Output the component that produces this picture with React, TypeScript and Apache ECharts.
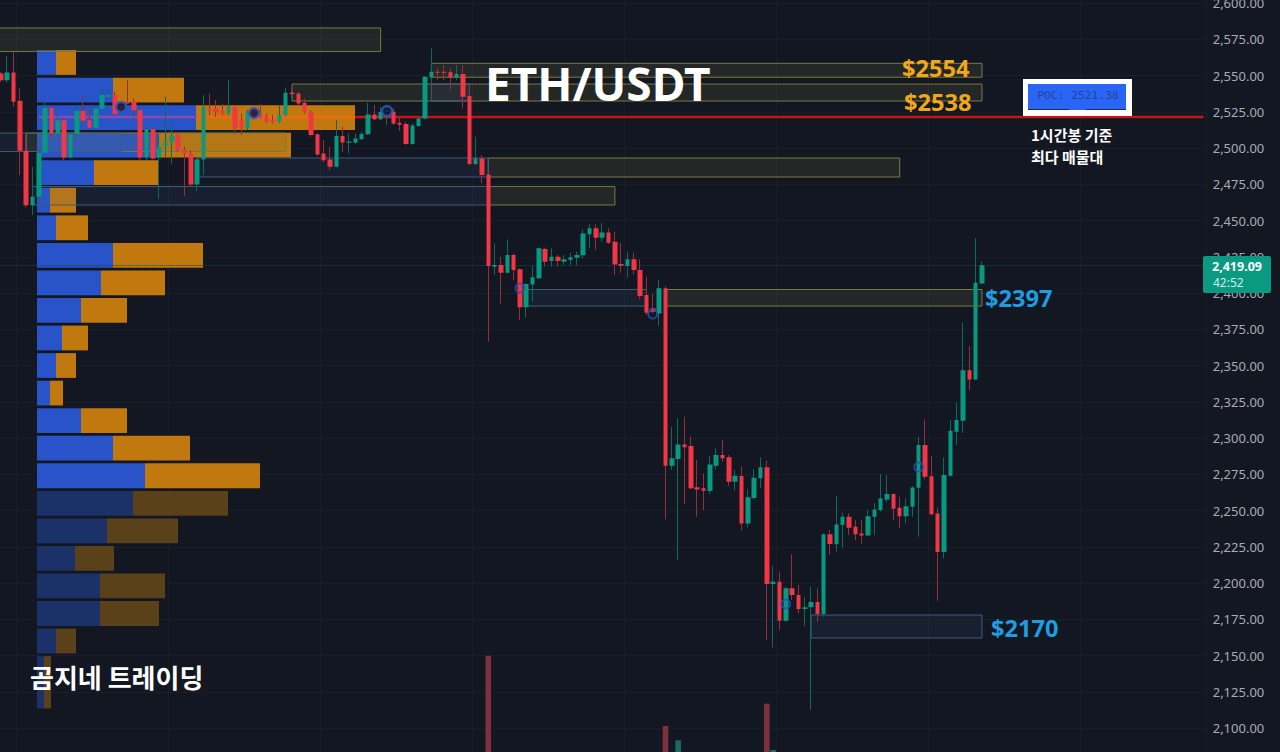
import { useEffect, useRef } from 'react';
import * as echarts from 'echarts';

// [open, close, low, high], one hourly candle per row
const candles = [
  [2551.4, 2546.8, 2545.7, 2552.6], [2546.8, 2552.1, 2545, 2563.4], [2552.1, 2531.9, 2528.4, 2566.4], [2532.6, 2498.1, 2481.3, 2541],
  [2498.1, 2460.6, 2459, 2510], [2460.6, 2466.4, 2453.7, 2487], [2466.4, 2496.7, 2464, 2498.5], [2496.7, 2527.7, 2496.2, 2533],
  [2527.7, 2510, 2507.7, 2529.6], [2510, 2519.2, 2508.9, 2522.7], [2519.2, 2493.5, 2491.6, 2520.4], [2493.5, 2509.6, 2492.8, 2511.2],
  [2509.4, 2525.7, 2507.7, 2528.4], [2525.7, 2518.8, 2516.9, 2535.8], [2519.2, 2514, 2513.5, 2528.4], [2514, 2527.3, 2512.3, 2528.4],
  [2527.1, 2536.5, 2526.6, 2541], [2535.3, 2536.5, 2534.2, 2539.9], [2536.5, 2523.4, 2522.7, 2538.8], [2529.6, 2526.1, 2525, 2531.9],
  [2531.9, 2530.7, 2530.2, 2546.8], [2532.3, 2526.1, 2521.5, 2534.2], [2526.1, 2493.5, 2491.6, 2528], [2493.5, 2513, 2491.6, 2514.6],
  [2513, 2492.8, 2492.1, 2514.6], [2493.5, 2500.8, 2465.2, 2510], [2501.3, 2504.3, 2493.9, 2535.3], [2504.3, 2508.4, 2489.3, 2518.1],
  [2508.9, 2499.2, 2497.4, 2510], [2499.2, 2495.8, 2466.8, 2500.8], [2495.8, 2474.9, 2473.3, 2498.5], [2474.9, 2492.1, 2470.5, 2493.9],
  [2492.1, 2527.7, 2481.3, 2536.5], [2527.3, 2526.1, 2522.7, 2537.6], [2527.3, 2524.5, 2521.5, 2533], [2526.1, 2523.8, 2522.7, 2530.7],
  [2523.8, 2528, 2522.7, 2546.8], [2528, 2513.5, 2510, 2528.4], [2519.2, 2514.2, 2508.9, 2523.8], [2513.5, 2525, 2512.3, 2526.1],
  [2525, 2521.5, 2520.4, 2527.3], [2522.7, 2521.1, 2520.4, 2530.7], [2521.5, 2518.1, 2517.4, 2523.8], [2519.2, 2518.1, 2516.9, 2522.7],
  [2518.1, 2522.7, 2517.4, 2529.6], [2522.7, 2538.1, 2522, 2541.8], [2538.1, 2537.2, 2535.3, 2539.9], [2537.6, 2530.7, 2529.6, 2538.8],
  [2531.2, 2525, 2523.8, 2534.2], [2524.8, 2508.9, 2507.7, 2526.1], [2509.4, 2495.6, 2494.4, 2510], [2496.2, 2491.6, 2490.5, 2505.4],
  [2492.1, 2487, 2484.7, 2500.8], [2487, 2508.2, 2486.6, 2519.2], [2508.2, 2503.8, 2497.4, 2514.6], [2503.6, 2504.5, 2496.2, 2510],
  [2503.6, 2506.6, 2503.1, 2510], [2506.1, 2509.6, 2505.4, 2511.2], [2509.4, 2523.1, 2508.9, 2531.2], [2523.1, 2519.9, 2519.2, 2529.6],
  [2519.9, 2524.8, 2519.2, 2528.4], [2524.8, 2526.1, 2515.8, 2528.4], [2525, 2516.9, 2515.8, 2527.3], [2517.4, 2516, 2511.9, 2521.1],
  [2516.5, 2502.7, 2502.2, 2518.1], [2502.7, 2515.6, 2502.2, 2516.9], [2515.1, 2520.4, 2514.6, 2521.5], [2520.4, 2549.1, 2519.7, 2549.6],
  [2548.7, 2552.6, 2544.5, 2568.7], [2552.6, 2551.9, 2546.8, 2554.9], [2552.6, 2551.9, 2546.8, 2557.2], [2552.3, 2548.7, 2540.4, 2554.9],
  [2548.7, 2551, 2546.8, 2557.2], [2551, 2535.3, 2527.3, 2557.2], [2535.8, 2488.9, 2488.2, 2543.4], [2488.9, 2492.8, 2488.2, 2507.7],
  [2492.8, 2481.3, 2475.6, 2495.1], [2481.8, 2418.6, 2366.4, 2483], [2418.1, 2419.3, 2412.4, 2434.2], [2419.3, 2414, 2392.8, 2424.6],
  [2414, 2426.2, 2413.5, 2437], [2426.2, 2415.8, 2408.9, 2427.3], [2416.3, 2390.1, 2381.3, 2417], [2390.1, 2406.2, 2383.2, 2406.6],
  [2405.9, 2410.8, 2394, 2419.3], [2410.1, 2430.8, 2409.6, 2431.2], [2430.3, 2421.6, 2418.1, 2431.2], [2422, 2425, 2418.1, 2430.8],
  [2425, 2422, 2418.1, 2426.2], [2421.6, 2423.2, 2419.3, 2426.2], [2422.7, 2424.6, 2419.3, 2427.8], [2424.3, 2426.2, 2419.3, 2428.5],
  [2426, 2441.1, 2423.9, 2443.9], [2440.6, 2444.6, 2430.8, 2447.5], [2444.6, 2438.1, 2429.6, 2447.5], [2438.1, 2441.8, 2435.4, 2448],
  [2441.8, 2434.7, 2433.8, 2444.6], [2435.4, 2419.7, 2412.4, 2442.3], [2420, 2418.8, 2414, 2434.7], [2418.6, 2423.2, 2410.8, 2428.5],
  [2423.2, 2415.8, 2413, 2427.8], [2415.8, 2397.9, 2395.6, 2423.2], [2398.6, 2386.4, 2384.8, 2411.2], [2389.4, 2387.1, 2385.9, 2399.7],
  [2385.9, 2403.2, 2377.2, 2408.9], [2403.2, 2280.9, 2243.9, 2404.8], [2280.9, 2286, 2277.9, 2307.8], [2285.5, 2295.6, 2215.8, 2313.6],
  [2295.6, 2293.6, 2254.5, 2314.7], [2294.5, 2265.3, 2264.6, 2300.9], [2266, 2264.4, 2245.7, 2284.8], [2265.3, 2263.7, 2250.3, 2275.6],
  [2263.4, 2281.8, 2261.4, 2287.6], [2280.9, 2288.3, 2278.4, 2292.9], [2288.3, 2286, 2283.7, 2298.6], [2286.7, 2269.9, 2266.9, 2288.3],
  [2269.9, 2274, 2263.7, 2277.9], [2273.8, 2241.1, 2236.1, 2280.2], [2241.1, 2259.1, 2238.4, 2264.6], [2258.6, 2272.6, 2257.7, 2278.4],
  [2272.2, 2279.8, 2265.3, 2286.7], [2279.8, 2199.3, 2160.7, 2284.4], [2199.3, 2200.9, 2155.6, 2211.7], [2200.9, 2174, 2167.6, 2207.8],
  [2174, 2196.3, 2173.3, 2197.5], [2196.3, 2191.7, 2188.3, 2220], [2191.7, 2182, 2179.1, 2198.6], [2182, 2183.2, 2170.3, 2190.1],
  [2183.2, 2186.9, 2112.4, 2197.4], [2186.9, 2178.6, 2173.3, 2196.3], [2178.6, 2233.6, 2176.8, 2234.2], [2233.6, 2226.9, 2219.3, 2236.5],
  [2226.8, 2240.4, 2221.5, 2259.9], [2240, 2245.7, 2224.5, 2248.4], [2245.7, 2238.1, 2233, 2248], [2238.8, 2233.7, 2229.6, 2243.4],
  [2234.2, 2232.8, 2227.3, 2243.4], [2232.8, 2246.1, 2232.4, 2250.3], [2245.7, 2250.7, 2233, 2254.9], [2250.3, 2258.3, 2249.1, 2275.1],
  [2257.6, 2261.3, 2256, 2274.4], [2261.3, 2251.2, 2243.4, 2261.8], [2251.9, 2246.1, 2238.1, 2259.5], [2246.1, 2253, 2241.1, 2258.3],
  [2252.6, 2265.9, 2245.7, 2266.8], [2265.7, 2295.1, 2231.9, 2300.9], [2295.1, 2273.3, 2271.4, 2312.8], [2273.7, 2247.5, 2246.8, 2287.5],
  [2248, 2221.3, 2187.7, 2252.1], [2221.3, 2274.4, 2216.9, 2286.6], [2273.9, 2305, 2273.3, 2312.4], [2304.3, 2312.4, 2295.1, 2324.5],
  [2311.9, 2346.8, 2303.6, 2379.5], [2346.8, 2340.4, 2333, 2363.4], [2340.4, 2407.1, 2339.9, 2437.7], [2406.6, 2419.09, 2406.2, 2421.6],
];

// empty slots to the right of the last candle
const emptySlots = 35;
const categories = Array.from({ length: candles.length + emptySlots }, (_, i) => String(i));

// [candle index, volume]; only the bars that reach the visible area
const redVolumes = [[77, 136], [105, 48], [121, 76]];
const greenVolumes = [[107, 30], [122, 18]];

// volume profile, by price level
const profileLevels = [
  '2559', '2540', '2521', '2502', '2483', '2464', '2445', '2426', '2407', '2388', '2369', '2350',
  '2331', '2312', '2293', '2274', '2255', '2236', '2217', '2198', '2179', '2160', '2141', '2122',
];
const profileBuy = [19, 76, 159, 121, 57, 13, 19, 76, 64, 44, 25, 19, 13, 44, 76, 108, 96, 70, 38, 63, 63, 19, 7, 7];
const profileSell = [20, 71, 159, 133, 64, 26, 32, 90, 64, 46, 26, 20, 13, 46, 77, 115, 95, 71, 39, 65, 59, 20, 7, 7];
const dimFrom = 16;

// [first candle, last candle, top price, bottom price]
const yellowZones = [
  [-1, 60, 2582.8, 2566.6],
  [68, 155, 2558.4, 2548.8],
  [46, 155, 2544.1, 2532.4],
  [4, 45, 2510.3, 2497.6],
  [77, 142, 2493.1, 2480],
  [77, 97, 2473.4, 2460.7],
  [105, 155, 2402.4, 2391],
];
const blueZones = [
  [68, 74, 2544.1, 2532.4],
  [-1, 18.5, 2510.3, 2497.6],
  [31, 77, 2493.1, 2480],
  [5, 77, 2473.4, 2460.7],
  [83, 102, 2402.4, 2391],
  [128, 155, 2177.9, 2162.1],
];

// [candle index, price]
const filledMarkers = [[19, 2528.3], [40, 2524.1], [61, 2525.5]];
const openMarkers = [[82, 2403.4], [103, 2385.5], [124, 2185.5], [145, 2280]];

const poc = 2521.38;
const lastPrice = 2419.09;
// [from candle, to candle, colour]
const pocSegments = [
  [6.2, 31, '#8a4ba6'],
  [31, 56, '#f0690f'],
  [56, 189.9, '#c81414'],
];

const BG = '#131722';
const UP = '#089981';
const DOWN = '#f23645';
const FONT = '"Noto Sans", "Noto Sans CJK KR", sans-serif';
const KR = '"Noto Sans CJK KR", sans-serif';

const zoneRender = (fill: string, stroke: string) => (_: any, api: any) => {
  const a = api.coord([api.value(0), api.value(2)]);
  const b = api.coord([api.value(1), api.value(3)]);
  return {
    type: 'rect',
    shape: { x: a[0], y: a[1], width: b[0] - a[0], height: b[1] - a[1] },
    style: { fill, stroke, lineWidth: 1 },
  };
};

const label = (text: string, x: number, y: number, font: string, fill: string, textAlign = 'left') => ({
  type: 'text',
  z: 100,
  style: { text, x, y, font, fill, textAlign, textVerticalAlign: 'middle' },
});

export default function App() {
  const chartRef = useRef<HTMLDivElement>(null);

  useEffect(() => {
    if (!chartRef.current) return;
    const chart = echarts.init(chartRef.current, null, { renderer: 'svg' });

    chart.setOption({
      animation: false,
      backgroundColor: BG,
      grid: [
        { left: -2.3, top: -33.25, width: 1209, height: 797.5, outerBoundsMode: 'none' },
        { left: 37, top: 48.7, width: 400, height: 661.2, outerBoundsMode: 'none' },
      ],
      xAxis: [
        {
          type: 'category',
          gridIndex: 0,
          data: categories,
          axisLine: { show: false },
          axisTick: { show: false },
          axisLabel: { show: false },
          splitLine: {
            show: true,
            interval: (i: number) => i % 24 === 3,
            lineStyle: { color: '#191e29', width: 1 },
          },
        },
        { type: 'value', gridIndex: 1, min: 0, max: 400, show: false },
      ],
      yAxis: [
        {
          type: 'value',
          gridIndex: 0,
          position: 'right',
          min: 2075,
          max: 2625,
          interval: 25,
          axisLine: { show: false },
          axisTick: { show: false },
          splitLine: { lineStyle: { color: '#191e29', width: 1 } },
          axisLabel: {
            showMinLabel: false,
            showMaxLabel: false,
            margin: 6,
            color: '#a8abb5',
            fontFamily: FONT,
            fontSize: 13,
            formatter: (v: number) =>
              v.toLocaleString('en-US', { minimumFractionDigits: 2, maximumFractionDigits: 2 }),
          },
        },
        { type: 'value', gridIndex: 0, min: 0, max: 1000, show: false },
        { type: 'category', gridIndex: 1, inverse: true, data: profileLevels, show: false },
      ],
      series: [
        {
          type: 'bar',
          name: 'buy',
          xAxisIndex: 1,
          yAxisIndex: 2,
          stack: 'profile',
          barWidth: 24.8,
          z: 1,
          data: profileBuy.map((v, i) => ({
            value: v,
            itemStyle: { color: i >= dimFrom ? '#1b3268' : '#2853c9' },
          })),
        },
        {
          type: 'bar',
          name: 'sell',
          xAxisIndex: 1,
          yAxisIndex: 2,
          stack: 'profile',
          barWidth: 24.8,
          z: 1,
          data: profileSell.map((v, i) => ({
            value: v,
            itemStyle: { color: i >= dimFrom ? '#5a4119' : '#c0780f' },
          })),
        },
        {
          type: 'custom',
          name: 'yellow zones',
          xAxisIndex: 0,
          yAxisIndex: 0,
          z: 2,
          clip: false,
          encode: { x: [0, 1], y: [2, 3] },
          renderItem: zoneRender('rgba(120,120,70,0.17)', '#7b7940'),
          data: yellowZones,
        },
        {
          type: 'custom',
          name: 'blue zones',
          xAxisIndex: 0,
          yAxisIndex: 0,
          z: 2,
          clip: false,
          encode: { x: [0, 1], y: [2, 3] },
          renderItem: zoneRender('rgba(70,110,160,0.1)', '#3f5d7c'),
          data: blueZones,
        },
        {
          type: 'custom',
          name: 'POC',
          xAxisIndex: 0,
          yAxisIndex: 0,
          z: 3,
          clip: false,
          encode: { x: [0, 1] },
          renderItem: (params: any, api: any) => {
            const seg = pocSegments[params.dataIndex];
            const a = api.coord([seg[0], poc]);
            const b = api.coord([seg[1], poc]);
            return {
              type: 'line',
              shape: { x1: a[0], y1: a[1], x2: b[0], y2: b[1] },
              style: { stroke: seg[2] as string, lineWidth: 2.4 },
            };
          },
          data: pocSegments.map((s) => [s[0], s[1]]),
        },
        {
          type: 'bar',
          name: 'volume down',
          xAxisIndex: 0,
          yAxisIndex: 1,
          barWidth: 5.6,
          barGap: '-100%',
          z: 2,
          itemStyle: { color: '#7d3140' },
          data: redVolumes,
        },
        {
          type: 'bar',
          name: 'volume up',
          xAxisIndex: 0,
          yAxisIndex: 1,
          barWidth: 5.6,
          barGap: '-100%',
          z: 2,
          itemStyle: { color: '#1a6b66' },
          data: greenVolumes,
        },
        {
          type: 'candlestick',
          name: 'wicks',
          xAxisIndex: 0,
          yAxisIndex: 0,
          barWidth: 1,
          z: 4,
          itemStyle: {
            color: 'transparent',
            color0: 'transparent',
            borderColor: '#0c6b5e',
            borderColor0: '#93303f',
            borderWidth: 1,
          },
          data: candles,
          markLine: {
            silent: true,
            symbol: 'none',
            label: { show: false },
            lineStyle: { color: '#0e4f4c', type: 'dotted', width: 1 },
            data: [{ yAxis: lastPrice }],
          },
        },
        {
          type: 'candlestick',
          name: 'ETH/USDT',
          xAxisIndex: 0,
          yAxisIndex: 0,
          barWidth: 5,
          z: 5,
          itemStyle: {
            color: UP,
            color0: DOWN,
            borderColor: UP,
            borderColor0: DOWN,
            borderWidth: 0,
          },
          data: candles,
        },
        {
          type: 'scatter',
          name: 'filled markers',
          xAxisIndex: 0,
          yAxisIndex: 0,
          symbolSize: 10,
          z: 6,
          itemStyle: { color: '#12182b', borderColor: '#2c5cc8', borderWidth: 2.4 },
          data: filledMarkers,
        },
        {
          type: 'scatter',
          name: 'open markers',
          xAxisIndex: 0,
          yAxisIndex: 0,
          symbolSize: 9,
          z: 6,
          itemStyle: { color: 'transparent', borderColor: '#2450b4', borderWidth: 2 },
          data: openMarkers,
        },
      ],
      graphic: [
        label('ETH/USDT', 485, 83, `bold 46px ${FONT}`, '#ffffff'),
        label('$2554', 902, 68, `bold 23.6px ${FONT}`, '#f0a818'),
        label('$2538', 904, 102, `bold 23.6px ${FONT}`, '#f0a818'),
        label('$2397', 985, 298, `bold 23.6px ${FONT}`, '#1e9de0'),
        label('$2170', 991, 628, `bold 23.6px ${FONT}`, '#1e9de0'),
        label('곰지네 트레이딩', 30, 676, `bold 26px ${KR}`, '#ffffff'),
        label('1시간봉 기준', 1031, 134.5, `bold 15px ${KR}`, '#ffffff'),
        label('최다 매물대', 1031, 156, `bold 15px ${KR}`, '#ffffff'),
        { type: 'rect', z: 99, shape: { x: 1023, y: 79, width: 109, height: 37 }, style: { fill: '#ffffff' } },
        { type: 'rect', z: 99, shape: { x: 1028, y: 84, width: 98, height: 26 }, style: { fill: '#2a66f5' } },
        { type: 'rect', z: 99, shape: { x: 1028, y: 109, width: 41, height: 1 }, style: { fill: '#1c2a55' } },
        { type: 'rect', z: 99, shape: { x: 1086, y: 109, width: 40, height: 1 }, style: { fill: '#1c2a55' } },
        label('POC: 2521.38', 1078, 95, '11.3px "DejaVu Sans Mono", monospace', '#25439a', 'center'),
        { type: 'rect', z: 99, shape: { x: 1203, y: 256, width: 68, height: 37, r: 2 }, style: { fill: '#0a9a82' } },
        label('2,419.09', 1212, 266, `bold 12.5px ${FONT}`, '#ffffff'),
        label('42:52', 1213, 282, `12px ${FONT}`, '#cfeee7'),
      ],
    });

    return () => {
      chart.dispose();
    };
  }, []);

  return <div ref={chartRef} style={{ position: 'fixed', left: 0, top: 0, width: 1280, height: 752 }} />;
}
